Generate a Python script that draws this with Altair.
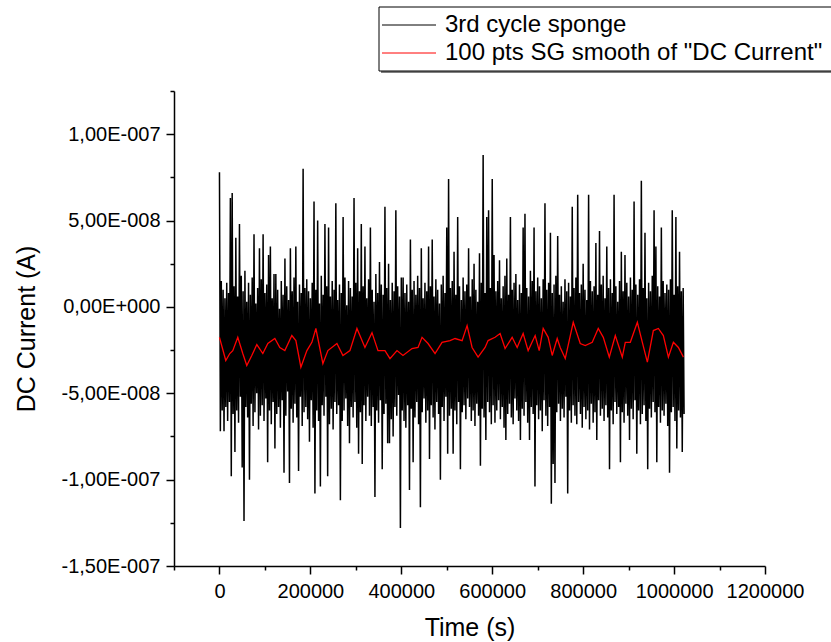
import altair as alt
import pandas as pd

# ---------------- data ----------------
# DC current of the noisy raw signal, in nA, one sample every 2000 s
current_nA = [
    78, -72, 15, -60, 10, -72, 5, -58, 14, -66, 8, -55, 63, -98, 66, -62,
    12, -84, 40, -60, 6, -67, 48, -52, 18, -93, 9, -124, 21, -58, 3, -64,
    14, -100, 7, -56, 17, -69, 42, -61, 2, -50, 11, -71, 34, -63, 16, -57,
    42, -66, 8, -53, 13, -90, 30, -60, 35, -68, 5, -55, 19, -82, 19, -62,
    10, -58, -1, -70, 15, -54, 7, -96, 28, -63, 12, -49, 4, -102, 34, -59,
    9, -67, 17, -56, 35, -64, 3, -95, 13, -52, 8, -69, 80, -61, 11, -58,
    16, -65, 9, -78, 5, -54, 14, -70, 61, -108, 10, -60, 50, -66, 2, -104,
    18, -57, 7, -63, 48, -52, 12, -98, 46, -68, 6, -59, 15, -71, 10, -55,
    60, -62, 4, -57, 13, -112, 8, -66, 52, -60, 17, -53, 1, -69, 15, -79,
    11, -58, 6, -64, 63, -55, 14, -70, 34, -85, 9, -61, 48, -91, 12, -57,
    35, -66, 5, -52, 16, -63, 46, -69, 10, -58, 3, -110, 19, -60, 8, -67,
    26, -54, 13, -94, 7, -62, 58, -56, 11, -79, 25, -79, 4, -65, 14, -75,
    9, -58, 56, -63, 12, -51, 6, -128, 17, -60, 17, -66, 8, -70, 13, -57,
    3, -106, 39, -59, 10, -90, 15, -64, 7, -55, 18, -68, 11, -116, 34, -61,
    5, -53, 14, -67, 9, -60, 35, -88, 12, -57, 39, -64, 6, -71, 16, -55,
    10, -62, 2, -100, 13, -58, 18, -66, 8, -52, 46, -85, 74, -63, 11, -59,
    15, -85, 32, -60, 7, -68, 52, -55, 12, -94, 4, -61, 17, -57, 9, -65,
    13, -53, 34, -58, 6, -66, 16, -60, 25, -69, 10, -56, 3, -63, 31, -92,
    14, -59, 88, -64, 8, -77, 52, -55, 56, -61, 11, -68, 74, -57, 30, -67,
    9, -60, 15, -54, 27, -65, 5, -58, 12, -70, 18, -77, 28, -62, 7, -56,
    52, -64, 10, -68, 14, -53, 19, -60, 4, -66, 13, -77, 8, -59, 46, -63,
    54, -55, 11, -67, 6, -77, 21, -58, 15, -62, 46, -104, 9, -57, 17, -65,
    12, -60, 5, -72, 16, -54, 60, -63, 10, -69, 14, -58, 43, -114, 8, -91,
    13, -102, 18, -61, 41, -56, 7, -66, 12, -59, 3, -64, 16, -52, 9, -108,
    14, -60, 6, -67, 58, -57, 11, -63, 17, -68, 65, -55, 8, -62, 13, -70,
    25, -58, 10, -65, 4, -60, 65, -71, 15, -56, 9, -67, 12, -61, 37, -77,
    7, -54, 44, -63, 13, -59, 18, -66, 5, -57, 35, -64, 11, -94, 16, -60,
    8, -68, 65, -55, 12, -62, 3, -58, 15, -90, 32, -61, 9, -67, 30, -56,
    14, -63, 6, -77, 17, -59, 10, -65, 61, -54, 13, -85, 7, -60, 16, -68,
    73, -62, 11, -57, 43, -66, 5, -94, 14, -59, 9, -64, 18, -55, 56, -61,
    35, -90, 12, -58, 6, -67, 46, -60, 15, -63, 8, -56, 13, -69, 10, -96,
    16, -61, 56, -58, 7, -66, 52, -82, 12, -60, 32, -64, 9, -84, 11, -62,
]
sample_interval_s = 2000

# 100 pts Savitzky-Golay smooth, time in ks and current in nA
smooth_t_ks = [
    0, 13.9, 22.7, 29.3, 40.3, 51.3, 60.1, 71.1, 82.2, 95.4, 106.4, 121.8,
    132.8, 143.8, 159.2, 168.1, 179.1, 192.3, 203.3, 212.1, 227.5, 238.5,
    258.4, 271.6, 287.0, 302.4, 320.0, 335.5, 348.7, 364.1, 375.1, 390.5,
    403.7, 423.5, 436.8, 445.6, 458.8, 474.2, 489.6, 507.2, 518.2, 533.7,
    544.7, 555.7, 568.9, 584.3, 590.9, 606.3, 617.3, 628.3, 643.8, 654.8,
    668.0, 679.0, 694.4, 703.3, 712.1, 723.1, 731.9, 742.9, 749.5, 760.6,
    778.2, 793.6, 804.6, 820.0, 833.2, 844.3, 857.5, 870.7, 886.1, 892.7,
    903.7, 919.2, 930.2, 941.2, 954.4, 965.4, 976.4, 987.5, 998.5, 1009.5,
    1020.5,
]
smooth_nA = [
    -17.6, -31.0, -27.0, -25.3, -17.6, -27.0, -33.9, -28.1, -21.8, -27.0,
    -21.2, -18.3, -23.5, -25.3, -16.6, -19.5, -34.9, -25.3, -20.5, -12.5,
    -32.8, -25.3, -21.2, -28.1, -25.3, -12.5, -23.5, -14.9, -25.3, -25.3,
    -29.9, -25.3, -28.1, -24.1, -23.5, -17.6, -21.2, -27.0, -20.5, -19.5,
    -18.3, -19.5, -10.8, -23.5, -29.1, -23.5, -19.5, -17.6, -15.4, -24.1,
    -17.6, -23.5, -15.4, -25.3, -16.6, -25.3, -12.5, -17.6, -28.1, -18.3,
    -23.5, -29.9, -8.9, -21.2, -22.4, -20.5, -12.5, -17.6, -29.1, -16.6,
    -29.1, -20.5, -20.5, -8.9, -20.5, -32.0, -13.7, -12.5, -16.6, -29.1,
    -20.5, -23.5, -29.1,
]

series_names = ["3rd cycle sponge", "100 pts SG smooth of \"DC Current\""]
series_colors = ["#000000", "#ff0000"]

x_domain = [-100000, 1200000]
x_ticks = [0, 200000, 400000, 600000, 800000, 1000000, 1200000]
x_minor = [-100000, 100000, 300000, 500000, 700000, 900000, 1100000]
y_domain = [-1.5e-7, 1.25e-7]
y_ticks = [-1.5e-7, -1.0e-7, -5.0e-8, 0.0, 5.0e-8, 1.0e-7]
y_labels = ["-1,50E-007", "-1,00E-007", "-5,00E-008", "0,00E+000", "5,00E-008", "1,00E-007"]
y_minor = [-1.25e-7, -7.5e-8, -2.5e-8, 2.5e-8, 7.5e-8, 1.25e-7]

# ---------------- tables ----------------
raw_df = pd.DataFrame({
    "t": [i * sample_interval_s for i in range(len(current_nA))],
    "I": [v * 1e-9 for v in current_nA],
})
smooth_df = pd.DataFrame({
    "t": [t * 1000 for t in smooth_t_ks],
    "I": [v * 1e-9 for v in smooth_nA],
})

FONT = "Liberation Sans"
W, H = 591, 475
PAD = {"left": 174, "top": 91, "right": 66, "bottom": 76}

y_expr = " : ".join(
    f"abs(datum.value - ({v!r})) < 1e-12 ? '{lab}'" for v, lab in zip(y_ticks, y_labels)
) + " : ''"

xscale = alt.Scale(domain=x_domain, nice=False, zero=False)
yscale = alt.Scale(domain=y_domain, nice=False, zero=False)

x_axis = alt.Axis(values=x_ticks, format="d", title="Time (s)", orient="bottom",
                  grid=False, tickSize=8, labelPadding=7, labelFontSize=20,
                  titleFontSize=25, titlePadding=14, titleFontWeight="normal",
                  domainWidth=1.5, tickWidth=1.5, labelFlush=False, labelOverlap=False)
y_axis = alt.Axis(values=y_ticks, labelExpr=y_expr, title="DC Current (A)", orient="left",
                  grid=False, tickSize=8, labelPadding=6, labelFontSize=20,
                  titleFontSize=25, titlePadding=22, titleFontWeight="normal",
                  domainWidth=1.5, tickWidth=1.5, labelFlush=False, labelOverlap=False)

raw = alt.Chart(raw_df).mark_line(color=series_colors[0], strokeWidth=1.5).encode(
    x=alt.X("t:Q", scale=xscale, axis=x_axis),
    y=alt.Y("I:Q", scale=yscale, axis=y_axis),
)
smooth = alt.Chart(smooth_df).mark_line(color=series_colors[1], strokeWidth=1.3).encode(
    x=alt.X("t:Q", scale=xscale, axis=None),
    y=alt.Y("I:Q", scale=yscale, axis=None),
)
minor = alt.Chart(smooth_df).mark_point(opacity=0).encode(
    x=alt.X("t:Q", scale=xscale, axis=alt.Axis(values=x_minor, labels=False, domain=False,
                                                tickSize=4, tickWidth=1.5, grid=False,
                                                title=None, orient="bottom")),
    y=alt.Y("I:Q", scale=yscale, axis=alt.Axis(values=y_minor, labels=False, domain=False,
                                                tickSize=4, tickWidth=1.5, grid=False,
                                                title=None, orient="left")),
)

# ---------------- legend (box at top right) ----------------
bx0, bx1, by0, by1 = 379 - PAD["left"], 833 - PAD["left"], 7 - PAD["top"], 71 - PAD["top"]
shadow = alt.Chart(raw_df.head(1)).mark_rect(fill="#7f7f7f").encode(
    x=alt.value(bx0 + 2), x2=alt.value(bx1 + 2), y=alt.value(by0 + 2), y2=alt.value(by1 + 2))
box = alt.Chart(raw_df.head(1)).mark_rect(fill="white", stroke="black", strokeWidth=1).encode(
    x=alt.value(bx0), x2=alt.value(bx1), y=alt.value(by0), y2=alt.value(by1))
legend_layers = [shadow, box]
for k, (name, col) in enumerate(zip(series_names, series_colors)):
    ypix = 25 + 28 * k - PAD["top"]
    legend_layers.append(
        alt.Chart(raw_df.head(1)).mark_rule(color=col, strokeWidth=1).encode(
            x=alt.value(382 - PAD["left"]), x2=alt.value(436 - PAD["left"]), y=alt.value(ypix)))
    legend_layers.append(
        alt.Chart(raw_df.head(1)).mark_text(text=name, align="left", baseline="middle",
                                            fontSize=24, font=FONT, color="black").encode(
            x=alt.value(445 - PAD["left"]), y=alt.value(ypix)))

chart = alt.layer(raw, smooth, minor, *legend_layers).resolve_axis(
    x="independent", y="independent"
).properties(
    width=W, height=H, padding=PAD, autosize=alt.AutoSizeParams(type="none"),
).configure_view(stroke=None).configure_axis(
    domainColor="black", tickColor="black", labelColor="black", titleColor="black",
    labelFont=FONT, titleFont=FONT,
)

chart.save("out.html", embed_options={"renderer": "svg", "actions": False})
